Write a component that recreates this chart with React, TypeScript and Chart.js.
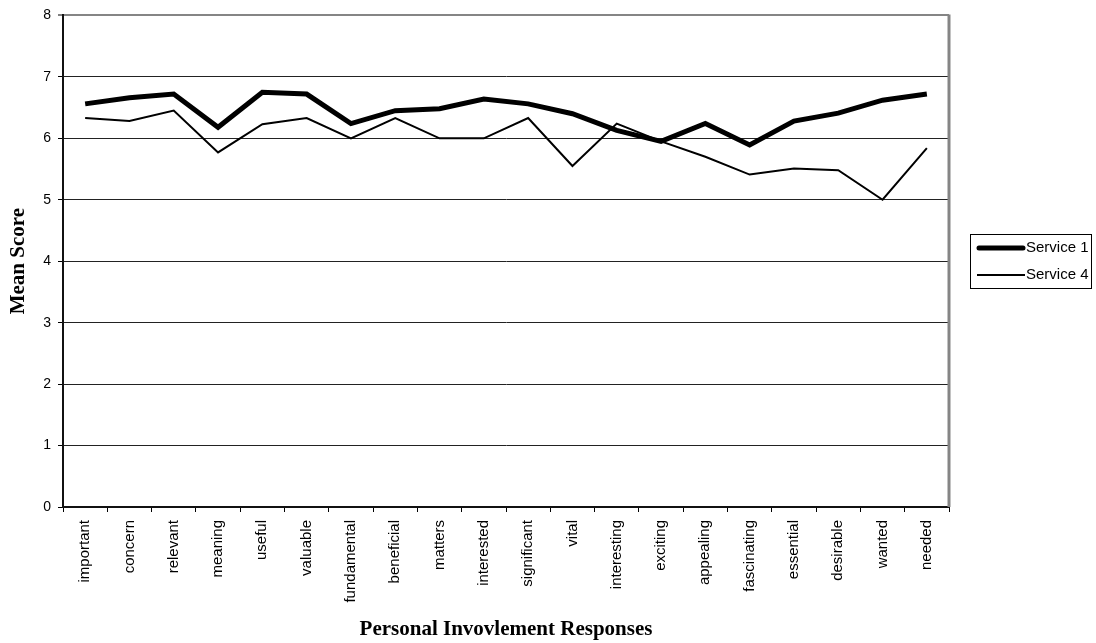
import React, { useEffect, useRef } from "react";
import { Chart, registerables } from "chart.js";

Chart.register(...registerables);

// Response words along the category axis
const responses = [
  "important", "concern", "relevant", "meaning", "useful", "valuable",
  "fundamental", "beneficial", "matters", "interested", "significant", "vital",
  "interesting", "exciting", "appealing", "fascinating", "essential",
  "desirable", "wanted", "needed",
];

// Mean scores per response
const service1 = [
  6.56, 6.66, 6.72, 6.18, 6.75, 6.72, 6.24, 6.45, 6.48, 6.64,
  6.56, 6.40, 6.13, 5.95, 6.24, 5.89, 6.28, 6.41, 6.62, 6.72,
];
const service4 = [
  6.33, 6.28, 6.45, 5.77, 6.23, 6.33, 6.00, 6.33, 6.00, 6.00,
  6.33, 5.55, 6.24, 5.95, 5.70, 5.41, 5.51, 5.48, 5.00, 5.84,
];

const seriesNames = ["Service 1", "Service 4"];
const yMin = 0;
const yMax = 8;
const yStep = 1;

const SANS = "'Liberation Sans', Arial, Helvetica, sans-serif";
const SERIF = "'Liberation Serif', 'Times New Roman', Times, serif";

// Gray frame on the right of the plot area plus a boxed legend beside it
const frameAndLegend = {
  id: "frameAndLegend",
  afterDraw(chart: any) {
    const { ctx, chartArea } = chart;
    ctx.save();
    // right frame edge
    ctx.strokeStyle = "#858585";
    ctx.lineWidth = 3;
    ctx.beginPath();
    ctx.moveTo(chartArea.right, chartArea.top - 1);
    ctx.lineTo(chartArea.right, chartArea.bottom);
    ctx.stroke();

    // legend
    const sets = chart.data.datasets;
    const rowH = 27;
    const boxW = 121;
    const boxH = rowH * sets.length;
    const x0 = Math.round(chartArea.right + 21);
    const y0 = Math.round((chartArea.top + chartArea.bottom) / 2 - boxH / 2);
    ctx.lineWidth = 1;
    ctx.strokeStyle = "#000";
    ctx.strokeRect(x0 + 0.5, y0 + 0.5, boxW, boxH);
    sets.forEach((ds: any, i: number) => {
      const cy = y0 + rowH * i + rowH / 2 + 0.5;
      const thick = ds.borderWidth > 3;
      ctx.beginPath();
      ctx.lineWidth = ds.borderWidth;
      ctx.strokeStyle = ds.borderColor;
      ctx.lineCap = thick ? "round" : "butt";
      ctx.moveTo(x0 + 7 + (thick ? 2 : 0), cy);
      ctx.lineTo(x0 + 55 - (thick ? 2 : 0), cy);
      ctx.stroke();
      ctx.fillStyle = "#000";
      ctx.font = `15px ${SANS}`;
      ctx.textBaseline = "middle";
      ctx.textAlign = "left";
      ctx.fillText(ds.label, x0 + 56, cy);
    });
    ctx.restore();
  },
};

export default function App() {
  const canvasRef = useRef<HTMLCanvasElement | null>(null);

  useEffect(() => {
    if (!canvasRef.current) return;
    const chart = new Chart(canvasRef.current, {
      type: "line",
      data: {
        labels: responses,
        datasets: [
          {
            label: seriesNames[0],
            data: service1,
            borderColor: "#000",
            backgroundColor: "#000",
            borderWidth: 5,
            pointRadius: 0,
            tension: 0,
          },
          {
            label: seriesNames[1],
            data: service4,
            borderColor: "#000",
            backgroundColor: "#000",
            borderWidth: 2,
            pointRadius: 0,
            tension: 0,
          },
        ],
      },
      options: {
        animation: false,
        responsive: true,
        maintainAspectRatio: false,
        layout: { padding: { top: 13, right: 147, bottom: 0, left: 0 } },
        plugins: {
          legend: { display: false },
          tooltip: { enabled: false },
        },
        scales: {
          x: {
            type: "category",
            offset: true,
            grid: {
              offset: true,
              drawOnChartArea: false,
              drawTicks: true,
              tickLength: 5,
              tickColor: "#000",
              tickWidth: 1,
            },
            border: { display: true, color: "#111", width: 2 },
            ticks: {
              autoSkip: false,
              maxRotation: 90,
              minRotation: 90,
              padding: 8,
              color: "#000",
              font: { family: SANS, size: 15 },
            },
            title: {
              display: true,
              text: "Personal Invovlement Responses",
              color: "#000",
              font: { family: SERIF, size: 21, weight: "bold" },
              padding: { top: 0, bottom: 1 },
            },
            afterFit(scale: any) {
              scale.height = 136;
            },
          },
          y: {
            min: yMin,
            max: yMax,
            ticks: {
              stepSize: yStep,
              padding: 7,
              color: "#000",
              font: { family: SANS, size: 14 },
            },
            grid: {
              drawTicks: true,
              tickLength: 5,
              tickColor: "#000",
              tickWidth: 1,
              color: (c: any) => (c.tick && c.tick.value === yMax ? "#858585" : "#222"),
              lineWidth: (c: any) => (c.tick && c.tick.value === yMax ? 2 : 1),
            },
            border: { display: true, color: "#111", width: 2 },
            title: {
              display: true,
              text: "Mean Score",
              color: "#000",
              font: { family: SERIF, size: 21, weight: "bold" },
              padding: { top: 6, bottom: 0 },
            },
            afterFit(scale: any) {
              scale.width = 63;
            },
          },
        },
      },
      plugins: [frameAndLegend],
    });
    return () => chart.destroy();
  }, []);

  return (
    <div
      style={{
        position: "fixed",
        left: 0,
        top: 0,
        width: 1096,
        height: 643,
        background: "#fff",
      }}
    >
      <canvas ref={canvasRef} />
    </div>
  );
}
